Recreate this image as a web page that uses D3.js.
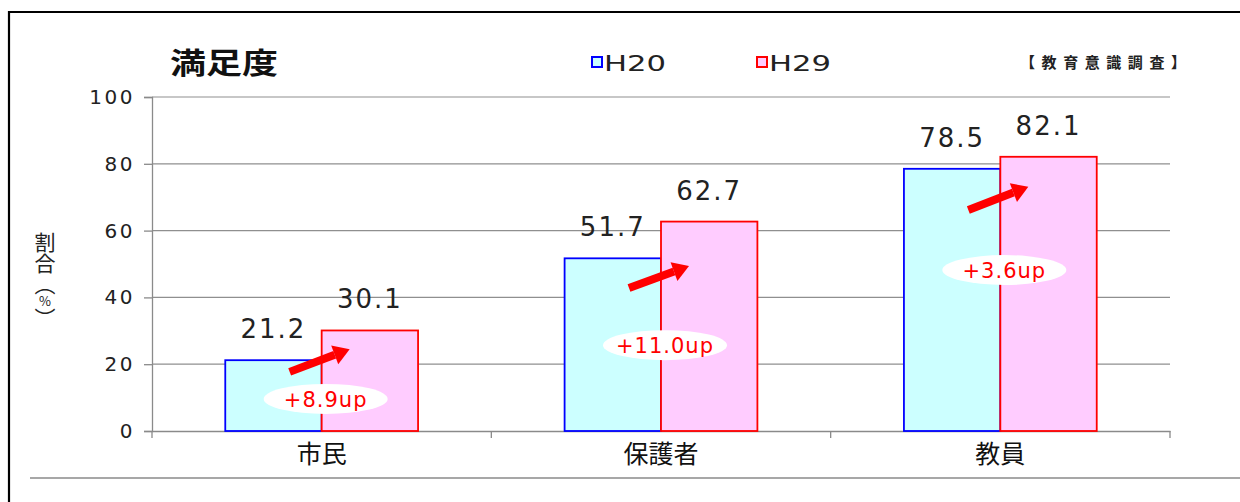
<!DOCTYPE html>
<html>
<head>
<meta charset="utf-8">
<script src="https://cdn.jsdelivr.net/npm/d3@7"></script>
<style>
  body { margin: 0; background: #fff; }
  svg { display: block; }
  .jp { font-family: "Noto Sans CJK JP", sans-serif; }
  .num { font-family: "DejaVu Sans", "Liberation Sans", sans-serif; }
  .vert { writing-mode: vertical-rl; text-orientation: upright; }
</style>
</head>
<body>
<svg id="chart" width="1240" height="502"></svg>
<script>
// data
const categories = ['市民', '保護者', '教員']
const seriesNames = ['H20', 'H29']
const h20Values = [21.2, 51.7, 78.5]
const h29Values = [30.1, 62.7, 82.1]
const yTicks = [0, 20, 40, 60, 80, 100]
// arrow annotations, start / end in y units
const arrowFrom = [17.7, 42.8, 66.2]
const arrowTo = [24.5, 49.4, 73.1]
// white ellipse labels, in y units
const badgeY = [9.6, 25.7, 48.2]

const svg = d3.select('#chart')
const margins = { top: 97, right: 70, bottom: 71, left: 152 }
const width = 1240 - margins.left - margins.right
const height = 502 - margins.top - margins.bottom

// outer frame
svg.append('path')
  .attr('d', 'M9,502 V12 H1240')
  .attr('fill', 'none')
  .attr('stroke', '#000')
  .attr('stroke-width', 2.2)
svg.append('line')
  .attr('x1', 30).attr('x2', 1240)
  .attr('y1', 478).attr('y2', 478)
  .attr('stroke', '#8a8a8a')
  .attr('stroke-width', 1.6)

const g = svg.append('g')
  .attr('transform', `translate(${margins.left}, ${margins.top})`)

const x0 = d3.scaleBand().domain(categories).range([0, width]).padding(0)
const x1 = d3.scaleBand().domain(seriesNames).range([0, x0.bandwidth()])
  .paddingInner(0).paddingOuter(0.76)
const y = d3.scaleLinear().domain([0, 100]).range([height, 0])

// grid
g.selectAll('.grid')
  .data(yTicks.filter((d) => d > 0))
  .enter()
  .append('line')
  .attr('x1', 0).attr('x2', width)
  .attr('y1', (d) => y(d)).attr('y2', (d) => y(d))
  .attr('stroke', '#8f8f8f')
  .attr('stroke-width', 1.2)

// y axis
const yAxis = g.append('g')
  .call(d3.axisLeft(y).tickValues(yTicks).tickSize(8).tickPadding(9))
yAxis.selectAll('path, line').attr('stroke', '#8a8a8a').attr('stroke-width', 1.3)
yAxis.selectAll('text')
  .attr('class', 'num')
  .attr('font-size', 20)
  .attr('letter-spacing', 2.5)
  .attr('fill', '#222')

// x axis
const xAxis = g.append('g')
  .attr('transform', `translate(0, ${height})`)
  .call(d3.axisBottom(x0).tickSize(0).tickPadding(14))
xAxis.select('.domain').attr('stroke', '#8a8a8a').attr('stroke-width', 1.3)
xAxis.selectAll('text')
  .attr('class', 'jp')
  .attr('font-size', 25)
  .attr('fill', '#111')
// boundary ticks between categories
g.selectAll('.xtick')
  .data(categories.map((c) => x0(c)).concat([width]))
  .enter()
  .append('line')
  .attr('x1', (d) => d).attr('x2', (d) => d)
  .attr('y1', height).attr('y2', height + 7)
  .attr('stroke', '#8a8a8a')
  .attr('stroke-width', 1.3)

// bars
const fills = { H20: '#ccffff', H29: '#ffccff' }
const strokes = { H20: '#0000ff', H29: '#ff0000' }
const rows = categories.map((c, i) => ({
  cat: c,
  vals: [
    { key: 'H20', value: h20Values[i] },
    { key: 'H29', value: h29Values[i] },
  ],
}))

const groups = g.selectAll('.group')
  .data(rows)
  .enter()
  .append('g')
  .attr('transform', (d) => `translate(${x0(d.cat)}, 0)`)

groups.selectAll('rect')
  .data((d) => d.vals)
  .enter()
  .append('rect')
  .attr('x', (d) => x1(d.key))
  .attr('y', (d) => y(d.value))
  .attr('width', x1.bandwidth())
  .attr('height', (d) => height - y(d.value))
  .attr('fill', (d) => fills[d.key])
  .attr('stroke', (d) => strokes[d.key])
  .attr('stroke-width', 1.8)

groups.selectAll('.val')
  .data((d) => d.vals)
  .enter()
  .append('text')
  .attr('class', 'num')
  .attr('x', (d) => x1(d.key) + x1.bandwidth() / 2)
  .attr('y', (d) => y(d.value) - 22)
  .attr('text-anchor', 'middle')
  .attr('font-size', 26)
  .attr('letter-spacing', 2)
  .attr('fill', '#222')
  .text((d) => d.value.toFixed(1))

// arrows and difference badges
const mid = x0.bandwidth() / 2
categories.forEach((c, i) => {
  const gx = x0(c) + mid
  const xs = gx - 32
  const xe = gx + 28
  const ys = y(arrowFrom[i])
  const ye = y(arrowTo[i])
  const ang = Math.atan2(ye - ys, xe - xs)
  const headLen = 16
  const bx = xe - headLen * Math.cos(ang)
  const by = ye - headLen * Math.sin(ang)
  g.append('line')
    .attr('x1', xs).attr('y1', ys)
    .attr('x2', bx).attr('y2', by)
    .attr('stroke', '#ff0000')
    .attr('stroke-width', 8)
  const px = -Math.sin(ang), py = Math.cos(ang)
  const w = 10
  g.append('path')
    .attr('d', `M${xe},${ye} L${bx + px * w},${by + py * w} L${bx - px * w},${by - py * w} Z`)
    .attr('fill', '#ff0000')

  const diff = h29Values[i] - h20Values[i]
  const cy = y(badgeY[i])
  g.append('ellipse')
    .attr('cx', gx + 4).attr('cy', cy)
    .attr('rx', 62).attr('ry', 15)
    .attr('fill', '#fff')
  g.append('text')
    .attr('class', 'num')
    .attr('x', gx + 4).attr('y', cy + 8)
    .attr('text-anchor', 'middle')
    .attr('font-size', 21)
    .attr('letter-spacing', 1)
    .attr('fill', '#ff0000')
    .text(`+${diff.toFixed(1)}up`)
})

// title
svg.append('text')
  .attr('class', 'jp')
  .attr('x', 170).attr('y', 74)
  .attr('font-size', 29)
  .attr('font-weight', 'bold')
  .attr('textLength', 108)
  .attr('lengthAdjust', 'spacingAndGlyphs')
  .attr('fill', '#111')
  .text('満足度')

// legend
const legendX = [592, 757]
seriesNames.forEach((s, i) => {
  svg.append('rect')
    .attr('x', legendX[i]).attr('y', 57)
    .attr('width', 10).attr('height', 10)
    .attr('fill', fills[s])
    .attr('stroke', strokes[s])
    .attr('stroke-width', 2)
  svg.append('text')
    .attr('class', 'num')
    .attr('x', legendX[i] + 12).attr('y', 71)
    .attr('font-size', 21)
    .attr('textLength', 62)
    .attr('lengthAdjust', 'spacingAndGlyphs')
    .attr('fill', '#222')
    .text(s)
})

// source note
svg.append('text')
  .attr('class', 'jp')
  .attr('x', 1020).attr('y', 68)
  .attr('font-size', 15)
  .attr('font-weight', 'bold')
  .attr('textLength', 166)
  .attr('fill', '#222')
  .text('【教育意識調査】')

// y axis title, written vertically
const yl = svg.append('text')
  .attr('class', 'jp vert')
  .attr('x', 45).attr('y', 232)
  .attr('font-size', 21)
  .attr('fill', '#222')
yl.append('tspan').text('割合（')
yl.append('tspan').attr('font-size', 13).text('%')
yl.append('tspan').text('）')
</script>
</body>
</html>
